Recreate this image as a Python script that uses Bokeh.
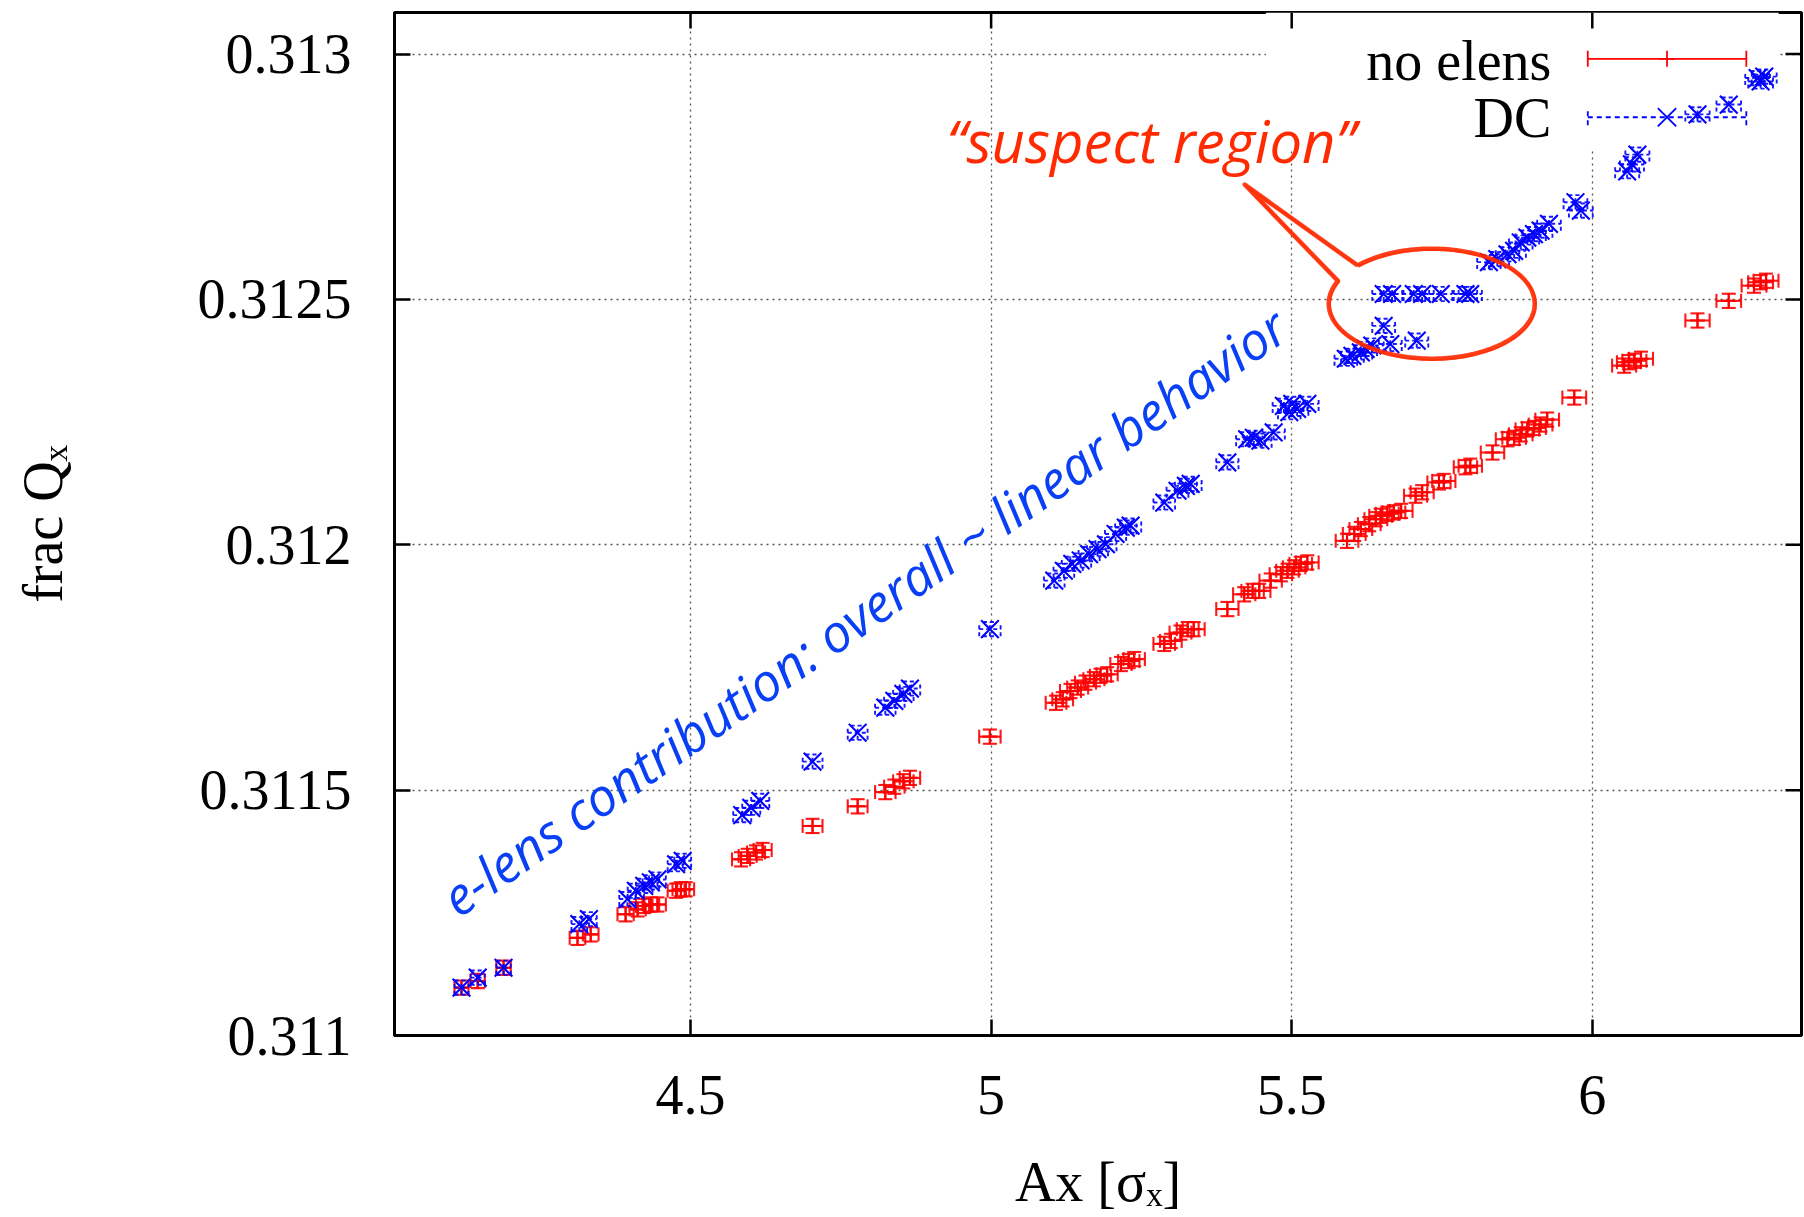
import numpy as np
from bokeh.plotting import figure
from bokeh.models import (Range1d, FixedTicker, Label, BoxAnnotation,
                          ColumnDataSource, CustomJSTickFormatter)
from bokeh.embed import file_html
from bokeh.resources import INLINE

# ---------------- data ----------------
red_ax = [4.119, 4.146, 4.189, 4.312, 4.334, 4.392, 4.412, 4.423, 4.434, 4.445,
          4.476, 4.484, 4.492, 4.584, 4.595, 4.609, 4.620, 4.703, 4.778,
          4.824, 4.839, 4.854, 4.865, 4.998,
          5.108, 5.119, 5.132, 5.144, 5.157, 5.171, 5.182, 5.193, 5.216, 5.229, 5.238,
          5.288, 5.299, 5.315, 5.327, 5.337, 5.393, 5.421, 5.435, 5.446,
          5.465, 5.482, 5.493, 5.504, 5.515, 5.526,
          5.592, 5.604, 5.615, 5.629, 5.640, 5.648, 5.659, 5.670, 5.682,
          5.706, 5.717, 5.745, 5.753, 5.789, 5.797, 5.834,
          5.859, 5.870, 5.881, 5.892, 5.903, 5.914, 5.925, 5.970,
          6.053, 6.061, 6.070, 6.081, 6.175, 6.227, 6.269, 6.280, 6.289]
red_qx = [0.3110975, 0.311111, 0.311138, 0.311199, 0.311206, 0.311247, 0.311257, 0.311264, 0.311267, 0.311267,
          0.311295, 0.311298, 0.311298, 0.311359, 0.311366, 0.311373, 0.311378, 0.311427, 0.311467,
          0.311496, 0.311507, 0.311518, 0.311525, 0.311609,
          0.311678, 0.311685, 0.311702, 0.311709, 0.311719, 0.311726, 0.311733, 0.311736, 0.311757, 0.311763, 0.311767,
          0.311798, 0.311804, 0.311821, 0.311828, 0.311828, 0.311869, 0.311899, 0.311906, 0.311906,
          0.311927, 0.311940, 0.311947, 0.311954, 0.311961, 0.311964,
          0.312008, 0.312022, 0.312032, 0.312042, 0.312052, 0.312059, 0.312063, 0.312066, 0.312069,
          0.312100, 0.312107, 0.312127, 0.312130, 0.312158, 0.312161, 0.312188,
          0.312215, 0.312218, 0.312225, 0.312235, 0.312238, 0.312245, 0.312255, 0.312300,
          0.312365, 0.312372, 0.312375, 0.312379, 0.312457, 0.312497, 0.312528, 0.312535, 0.312538]
red_dax = [0.0116, 0.0118, 0.012, 0.013, 0.013, 0.0135, 0.0135, 0.0138, 0.0138, 0.014,
           0.014, 0.014, 0.014, 0.015, 0.015, 0.015, 0.015, 0.0165, 0.0165,
           0.017, 0.017, 0.017, 0.017, 0.0178,
           0.0172, 0.0172, 0.0174, 0.0174, 0.0175, 0.0175, 0.0176, 0.0176, 0.0177, 0.0177, 0.0178,
           0.018, 0.018, 0.0182, 0.0182, 0.0182, 0.0185, 0.0185, 0.0186, 0.0186,
           0.0186, 0.0187, 0.0187, 0.0187, 0.0188, 0.0188,
           0.0188, 0.0189, 0.0189, 0.0189, 0.019, 0.019, 0.019, 0.019, 0.019,
           0.0192, 0.0192, 0.0193, 0.0193, 0.0194, 0.0194, 0.0195,
           0.0195, 0.0196, 0.0196, 0.0196, 0.0197, 0.0197, 0.0197, 0.0198,
           0.02, 0.02, 0.02, 0.02, 0.0202, 0.0205, 0.0206, 0.0206, 0.0207]

blue_ax = [4.119, 4.146, 4.189, 4.315, 4.331, 4.395, 4.409, 4.423, 4.434, 4.445,
           4.476, 4.487, 4.586, 4.601, 4.616, 4.703, 4.778,
           4.824, 4.839, 4.854, 4.865, 4.998,
           5.105, 5.121, 5.135, 5.149, 5.163, 5.177, 5.191, 5.207, 5.224, 5.232,
           5.288, 5.310, 5.324, 5.332, 5.393, 5.426, 5.437, 5.448, 5.470,
           5.487, 5.496, 5.501, 5.509, 5.526,
           5.590, 5.601, 5.615, 5.623, 5.634, 5.653, 5.664, 5.708,
           5.653, 5.667, 5.703, 5.717, 5.748, 5.789, 5.797,
           5.828, 5.842, 5.859, 5.870, 5.881, 5.892, 5.903, 5.914, 5.928,
           5.972, 5.981, 6.058, 6.066, 6.075, 6.175, 6.227, 6.275, 6.280, 6.286]
blue_qx = [0.3110975, 0.311118, 0.311138, 0.311227, 0.311237, 0.311278, 0.311295, 0.311305, 0.311312, 0.311318,
           0.311349, 0.311356, 0.311449, 0.311464, 0.311478, 0.311558, 0.311617,
           0.311668, 0.311682, 0.311696, 0.311707, 0.311828,
           0.311927, 0.311947, 0.311961, 0.311968, 0.311981, 0.311991, 0.312001, 0.312022, 0.312035, 0.312039,
           0.312086, 0.312110, 0.312120, 0.312124, 0.312168, 0.312215, 0.312218, 0.312212, 0.312229,
           0.312283, 0.312270, 0.312287, 0.312277, 0.312287,
           0.312379, 0.312385, 0.312392, 0.312399, 0.312406, 0.312446, 0.312409, 0.312416,
           0.312511, 0.312511, 0.312511, 0.312511, 0.312511, 0.312511, 0.312511,
           0.312576, 0.312582, 0.312592, 0.312599, 0.312616, 0.312626, 0.312633, 0.312640, 0.312654,
           0.312698, 0.312681, 0.312761, 0.312775, 0.312795, 0.312877, 0.312897, 0.312951, 0.312944, 0.312954]
blue_dax = [0.0116, 0.0118, 0.012, 0.013, 0.013, 0.0135, 0.0135, 0.0138, 0.0138, 0.014,
            0.014, 0.014, 0.015, 0.015, 0.015, 0.0165, 0.0165,
            0.017, 0.017, 0.017, 0.017, 0.0178,
            0.0172, 0.0172, 0.0174, 0.0174, 0.0175, 0.0175, 0.0176, 0.0176, 0.0177, 0.0177,
            0.018, 0.0182, 0.0182, 0.0182, 0.0185, 0.0185, 0.0186, 0.0186, 0.0186,
            0.0187, 0.0187, 0.0187, 0.0187, 0.0188,
            0.0188, 0.0189, 0.0189, 0.0189, 0.019, 0.019, 0.019, 0.0192,
            0.019, 0.019, 0.0192, 0.0192, 0.0193, 0.0194, 0.0194,
            0.0195, 0.0195, 0.0195, 0.0196, 0.0196, 0.0196, 0.0197, 0.0197, 0.0197,
            0.0198, 0.0198, 0.02, 0.02, 0.02, 0.0202, 0.0205, 0.0206, 0.0206, 0.0207]
QX_ERR = 1.45e-5          # vertical error half-length (both series)

x_ticks = [4.5, 5.0, 5.5, 6.0]
y_ticks = [0.311, 0.3115, 0.312, 0.3125, 0.313]
X_RANGE = (4.0076, 6.348)
Y_RANGE = (0.311, 0.3130846)

RED = "#ff0000"
BLUE = "#0000ff"
SERIF = "Liberation Serif"

# pixel -> data conversion factors for the fixed frame (1407 x 1023 px)
PX_X = (X_RANGE[1] - X_RANGE[0]) / 1407.0
PX_Y = (Y_RANGE[1] - Y_RANGE[0]) / 1023.0
CAP_X = 7 * PX_X          # cap half-lengths, ~7 screen px
CAP_Y = 7 * PX_Y
TICK_LEN = 16             # inward tick length, px

p = figure(width=1804, height=1217, output_backend="svg", toolbar_location=None,
           x_range=Range1d(*X_RANGE), y_range=Range1d(*Y_RANGE),
           min_border_left=394, min_border_right=3, min_border_top=12, min_border_bottom=182,
           x_axis_label="Ax [σₓ]", y_axis_label="frac Qₓ")
p.background_fill_color = "white"
p.border_fill_color = "white"
p.outline_line_color = "black"
p.outline_line_width = 3

fmt = CustomJSTickFormatter(code="return tick.toString();")

for ax in (p.xaxis[0], p.yaxis[0]):
    ax.axis_line_width = 3
    ax.axis_line_color = "black"
    ax.major_tick_in = TICK_LEN
    ax.major_tick_out = 0
    ax.major_tick_line_width = 2.5
    ax.minor_tick_in = 0
    ax.minor_tick_out = 0
    ax.major_label_text_font = SERIF
    ax.axis_label_text_font = SERIF
    ax.axis_label_text_font_style = "normal"
    ax.axis_label_text_color = "black"
    ax.major_label_text_color = "black"
    ax.major_label_text_font_size = "56px"
    ax.axis_label_text_font_size = "56px"
    ax.formatter = fmt

p.xaxis[0].ticker = FixedTicker(ticks=x_ticks)
p.yaxis[0].ticker = FixedTicker(ticks=y_ticks)
p.xaxis[0].major_label_standoff = 40
p.xaxis[0].axis_label_standoff = 34
p.yaxis[0].major_label_standoff = 43
p.yaxis[0].axis_label_standoff = 121

p.xgrid[0].ticker = FixedTicker(ticks=x_ticks)
p.ygrid[0].ticker = FixedTicker(ticks=y_ticks)
for g in (p.xgrid[0], p.ygrid[0]):
    g.grid_line_color = "#555555"
    g.grid_line_width = 1.3
    g.grid_line_dash = "2 4"
    g.level = "image"

# white key box that hides the grid behind the key
p.add_layout(BoxAnnotation(left=5.457, right=6.31, bottom=0.312807,
                           fill_color="white", fill_alpha=1.0, line_alpha=0.0,
                           level="underlay"))

# mirrored inward ticks on top and right edges
p.segment(x0=x_ticks, x1=x_ticks, y0=[Y_RANGE[1]] * len(x_ticks),
          y1=[Y_RANGE[1] - TICK_LEN * PX_Y] * len(x_ticks),
          line_color="black", line_width=2.5)
p.segment(x0=[X_RANGE[1]] * len(y_ticks), x1=[X_RANGE[1] - TICK_LEN * PX_X] * len(y_ticks),
          y0=y_ticks, y1=y_ticks, line_color="black", line_width=2.5)


def errbar_source(xs, ys, dxs, dy):
    x0, y0, x1, y1 = [], [], [], []
    for x, y, dx in zip(xs, ys, dxs):
        # horizontal bar + its caps
        x0 += [x - dx, x - dx, x + dx]
        y0 += [y, y - CAP_Y, y - CAP_Y]
        x1 += [x + dx, x - dx, x + dx]
        y1 += [y, y + CAP_Y, y + CAP_Y]
        # vertical bar + its caps
        x0 += [x, x - CAP_X, x - CAP_X]
        y0 += [y - dy, y - dy, y + dy]
        x1 += [x, x + CAP_X, x + CAP_X]
        y1 += [y + dy, y - dy, y + dy]
    return ColumnDataSource(dict(x0=x0, y0=y0, x1=x1, y1=y1))


# no elens (red)
p.segment(x0="x0", y0="y0", x1="x1", y1="y1",
          source=errbar_source(red_ax, red_qx, red_dax, QX_ERR),
          line_color=RED, line_width=2.1, line_alpha=0.9)
p.scatter(red_ax, red_qx, marker="cross", size=15, line_color=RED, line_width=2.1)

# DC (blue)
p.segment(x0="x0", y0="y0", x1="x1", y1="y1",
          source=errbar_source(blue_ax, blue_qx, blue_dax, QX_ERR),
          line_color=BLUE, line_width=1.9, line_dash="4 3", line_alpha=0.9)
p.scatter(blue_ax, blue_qx, marker="x", size=25, line_color=BLUE, line_width=2.1)

# ---------------- key ----------------
key_x0, key_x1, key_xm = 5.9925, 6.2562, 6.1243
key_y_red, key_y_blue = 0.3129902, 0.3128711
key_cy = 8 * PX_Y
p.segment(x0=[key_x0, key_x0, key_x1], y0=[key_y_red, key_y_red - key_cy, key_y_red - key_cy],
          x1=[key_x1, key_x0, key_x1], y1=[key_y_red, key_y_red + key_cy, key_y_red + key_cy],
          line_color=RED, line_width=1.8)
p.scatter([key_xm], [key_y_red], marker="cross", size=16, line_color=RED, line_width=1.8)
p.segment(x0=[key_x0, key_x0, key_x1], y0=[key_y_blue, key_y_blue - key_cy, key_y_blue - key_cy],
          x1=[key_x1, key_x0, key_x1], y1=[key_y_blue, key_y_blue + key_cy, key_y_blue + key_cy],
          line_color=BLUE, line_width=1.8, line_dash="5 4")
p.scatter([key_xm], [key_y_blue], marker="x", size=26, line_color=BLUE, line_width=1.8)

p.add_layout(Label(x=5.932, y=0.3129867, text="no elens", text_align="right",
                   text_baseline="middle", text_font=SERIF, text_font_size="56px",
                   text_color="black"))
p.add_layout(Label(x=5.932, y=0.3128706, text="DC", text_align="right",
                   text_baseline="middle", text_font=SERIF, text_font_size="56px",
                   text_color="black"))

# ---------------- annotations ----------------
ANNOT_RED = "#ff2a00"
ANNOT_BLUE = "#0a40f5"

p.add_layout(Label(x=5.266, y=0.312823, text="\u201csuspect region\u201d",
                   text_align="center", text_baseline="middle",
                   text_font="Open Sans", text_font_style="italic",
                   text_font_size="58px", text_color=ANNOT_RED))

p.add_layout(Label(x=4.788, y=0.311865,
                   text="e-lens contribution: overall ~ linear behavior",
                   text_align="center", text_baseline="middle", angle=0.61,
                   text_font="Open Sans", text_font_style="italic",
                   text_font_size="52px", text_color=ANNOT_BLUE))

# speech bubble around the suspect region
ecx, ecy, erx, ery = 5.7329, 0.3124913, 0.1713, 0.0001121
tip_x, tip_y = 5.4218, 0.312734
a_join, b_join = np.deg2rad(136.0), np.deg2rad(155.6)
t = np.linspace(b_join, a_join + 2 * np.pi, 200)
bx = [ecx + erx * np.cos(a_join), tip_x, ecx + erx * np.cos(b_join)] + list(ecx + erx * np.cos(t))
by = [ecy + ery * np.sin(a_join), tip_y, ecy + ery * np.sin(b_join)] + list(ecy + ery * np.sin(t))
p.line(bx, by, line_color=ANNOT_RED, line_width=4.5, line_alpha=0.9, line_join="round")
bx2 = [v + 0.002 for v in bx]
by2 = [v - 2.5e-6 for v in by]
p.line(bx2, by2, line_color=ANNOT_RED, line_width=2, line_alpha=0.6, line_join="round")

open("out.html", "w").write(file_html(p, INLINE))
